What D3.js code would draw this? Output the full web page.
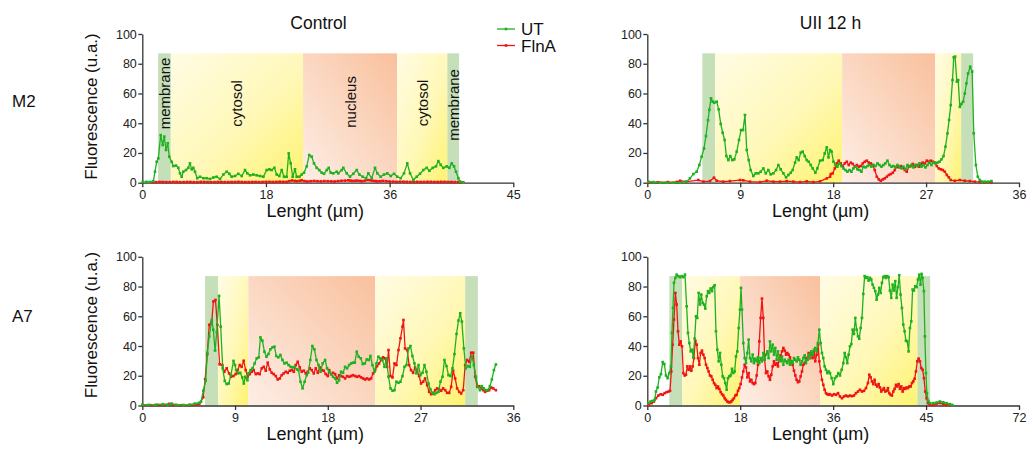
<!DOCTYPE html>
<html><head><meta charset="utf-8">
<script src="https://cdn.jsdelivr.net/npm/d3@7"></script>
<style>
body{margin:0;background:#fff;}
svg{display:block;font-family:"Liberation Sans",Arial,Helvetica,sans-serif;}
</style></head><body>
<svg id="chart" width="1033" height="449"></svg>
<script>
// ---------------- DATA ----------------
const colTitles = ["Control", "UII 12 h"];
const rowLabels = ["M2", "A7"];
const seriesNames = ["UT", "FlnA"];
const regionNames = ["membrane", "cytosol", "nucleus", "cytosol", "membrane"];
const yTicks = [0, 20, 40, 60, 80, 100];

// x ticks (positions in µm) and their printed labels
const m2CtrlXTicks = [0, 18, 36, 54];        const m2CtrlXLabels = ["0", "18", "36", "45"];
const m2UiiXTicks  = [0, 9, 18, 27, 36];     const m2UiiXLabels  = ["0", "9", "18", "27", "36"];
const a7CtrlXTicks = [0, 9, 18, 27, 36];     const a7CtrlXLabels = ["0", "9", "18", "27", "36"];
const a7UiiXTicks  = [0, 18, 36, 54, 72];    const a7UiiXLabels  = ["0", "18", "36", "45", "72"];

// compartment boundaries (µm): membrane | cytosol | nucleus | cytosol | membrane, and band height
const m2CtrlBands = [2.3, 4.15, 23.4, 37.1, 44.4, 46.1];
const m2UiiBands  = [5.33, 6.56, 18.87, 27.88, 30.4, 31.56];
const a7CtrlBands = [6.09, 7.35, 10.29, 22.6, 31.33, 32.56];
const a7UiiBands  = [4.26, 6.72, 17.96, 33.47, 52.33, 54.79];
const bandTop = 87;

// M2 - Control
const m2CtrlUT = [[0.06,0.5],[0.6,0.6],[1.1,0.5],[1.6,1],[1.85,7.4],[2.1,14.1],[2.33,16.4],[2.68,32],[2.97,25.3],[3.2,31],[3.45,22],[3.7,26.5],[3.93,17.5],[4.28,14],[4.5,11.2],[4.9,11.5],[5.24,10],[5.49,6.3],[5.73,4],[5.97,7.4],[6.36,8.5],[6.7,10],[6.94,13],[7.19,9],[7.43,10],[7.67,7.4],[8.0,3],[8.4,4],[8.88,3],[9.37,3],[9.85,2.5],[10.34,3.5],[10.83,4],[11.31,2.5],[11.8,5.5],[12.28,7.4],[12.67,6],[13.01,4],[13.5,4.5],[13.97,6],[14.47,4.5],[14.95,8.5],[15.28,6.3],[15.68,5],[16.16,5.5],[16.65,5],[17.13,4.5],[17.62,4],[18.1,8.5],[18.49,9],[18.83,8.5],[19.22,10],[19.56,5.5],[19.94,4.5],[20.29,8.5],[20.63,4],[21.02,4],[21.31,19.7],[21.6,13],[21.89,4],[22.23,9],[22.47,4],[22.86,4],[23.2,5.5],[23.54,6.7],[23.93,11],[24.3,18.6],[24.66,17.5],[24.99,13],[25.39,10],[25.76,8.5],[26.11,6.7],[26.45,6],[26.84,8.5],[27.13,10],[27.42,6.7],[27.8,6.3],[28.3,7.4],[28.53,6.3],[29.02,8.5],[29.26,10],[29.75,6.3],[30.23,4],[30.71,6],[31.21,8.5],[31.59,5.5],[32.08,4],[32.56,3],[32.9,6.3],[33.39,3],[33.87,10],[34.21,6.3],[34.7,4],[35.18,5.5],[35.66,6.3],[36.16,4.5],[36.64,6],[37.12,4],[37.61,3],[38.09,6.3],[38.57,13],[38.97,6.3],[39.45,1.8],[39.94,4],[40.42,6],[40.9,8.5],[41.4,10],[41.78,8],[42.27,10],[42.75,11],[43.09,14.5],[43.44,12],[43.81,10],[44.31,11],[44.69,10],[45.04,13],[45.37,11],[45.66,7.4],[46.0,3],[46.24,0.8],[46.72,0.1]];
const m2CtrlFlnA = [[1.5,0.2],[2,0.4],[2.5,0.5],[3,0.5],[3.5,0.4],[4,0.4],[4.5,0.5],[5,0.5],[5.5,0.4],[6,0.4],[6.5,0.5],[7,0.5],[7.5,0.4],[8,0.4],[8.5,0.6],[9,0.6],[9.5,0.5],[10,0.4],[10.5,0.4],[11,0.5],[11.5,0.5],[12,0.4],[12.5,0.4],[13,0.5],[13.5,0.5],[14,0.6],[14.5,0.5],[15,0.4],[15.5,0.4],[16,0.5],[16.5,0.5],[17,0.4],[17.5,0.5],[18,0.6],[18.5,0.6],[19,0.5],[19.5,0.6],[20,0.7],[20.5,0.6],[21,0.6],[21.4,1],[21.8,1.5],[22.2,1.2],[22.5,1],[22.9,1.3],[23.2,1.6],[23.6,1.1],[24,0.8],[24.5,1],[25,1.2],[25.5,1],[26,0.9],[26.5,1.1],[27,1],[27.5,0.9],[28,0.8],[28.5,1.1],[29,1.3],[29.5,1.4],[30,1.6],[30.3,1.4],[30.6,1.2],[31,1.3],[31.3,1.4],[31.7,1.2],[32,1],[32.4,1.4],[32.8,1.8],[33.2,1.6],[33.5,1.4],[33.9,1.1],[34.2,0.9],[34.6,1],[35,1.2],[35.5,1],[36,0.8],[36.5,0.7],[37,0.6],[37.5,0.7],[38,0.7],[38.5,0.6],[39,0.5],[39.5,0.6],[40,0.6],[40.5,0.5],[41,0.5],[41.5,0.6],[42,0.6],[42.5,0.5],[43,0.5],[43.5,0.6],[44,0.6],[44.5,0.5],[45,0.5],[45.5,0.4],[46,0.4],[46.4,0.3],[46.7,0.2]];

// M2 - UII 12 h
const m2UiiUT = [[0.1,0.7],[0.58,0.4],[1.23,0],[1.87,0],[2.52,0],[3.17,0],[3.81,0.7],[4.13,2.9],[4.46,5.8],[4.78,7.4],[5.04,11.9],[5.26,17.5],[5.49,23],[5.68,31.4],[5.88,42],[6.01,49],[6.17,56.7],[6.33,54.5],[6.49,53.8],[6.72,54.5],[6.91,49.3],[7.11,39.5],[7.3,33.6],[7.49,28.7],[7.66,17.9],[7.85,15.2],[8.04,17.9],[8.24,15.2],[8.43,15.7],[8.66,20.9],[8.88,28.7],[9.08,35.4],[9.27,35.4],[9.46,45.5],[9.63,22],[9.82,15.2],[10.01,8.5],[10.27,4.5],[10.5,6.3],[10.76,6.3],[10.98,7.4],[11.24,9.6],[11.47,6.3],[11.72,8.5],[11.95,5.6],[12.21,6.3],[12.47,8.5],[12.69,11.9],[12.92,9],[13.18,6.3],[13.44,3.6],[13.66,5.2],[13.89,6.7],[14.08,8.5],[14.31,13.5],[14.47,17],[14.66,15.2],[14.86,20.2],[15.05,20.9],[15.25,17.9],[15.44,15.2],[15.63,14.1],[15.83,11.9],[16.02,9.6],[16.28,6.7],[16.47,9.6],[16.73,14.8],[16.99,15.2],[17.18,19.7],[17.38,23.8],[17.55,17],[17.7,22],[17.85,20.9],[18.03,14.1],[18.22,11.9],[18.41,10.8],[18.61,13],[18.8,11.2],[19.0,9.6],[19.19,8.5],[19.38,7.4],[19.58,8.5],[19.77,7.4],[19.96,9.6],[20.16,10.8],[20.35,9],[20.55,8.5],[20.74,7.4],[20.93,10.8],[21.13,10.3],[21.32,11.2],[21.51,11.9],[21.71,10.8],[21.9,11.9],[22.1,11.2],[22.29,13],[22.48,11.9],[22.68,10.8],[22.87,11.9],[23.06,13],[23.26,14.8],[23.45,11.9],[23.65,10.8],[23.84,11.2],[24.03,10.3],[24.23,11.9],[24.42,10.8],[24.62,9.6],[24.81,10.8],[25.0,9],[25.2,11.9],[25.39,10.8],[25.58,11.9],[25.78,10.3],[25.97,11.9],[26.17,11.2],[26.36,13],[26.55,10.8],[26.75,11.9],[26.94,10.3],[27.13,11.9],[27.33,13.5],[27.52,11.9],[27.72,13.5],[27.91,13],[28.1,13.5],[28.3,14.1],[28.49,15.7],[28.69,17.9],[28.88,24.2],[29.07,33.2],[29.23,42.2],[29.39,52.2],[29.56,69],[29.68,84.3],[29.81,84.8],[29.98,68],[30.11,69],[30.27,51],[30.43,53],[30.59,54.5],[30.75,60],[30.91,66.8],[31.07,73.5],[31.27,78],[31.46,74.7],[31.62,33.2],[31.82,11.9],[32.01,4],[32.2,1.8],[32.43,0.7],[32.68,0.7],[33.0,0.7],[33.33,1.1]];
const m2UiiFlnA = [[0.1,0.2],[1,0.3],[2,0.4],[2.84,0.5],[3.17,1.3],[3.81,0.7],[4.94,1.8],[5.43,0.7],[6.07,1.1],[6.46,3.4],[6.72,1.3],[7.36,0.7],[8.0,1.1],[8.98,1.8],[9.3,1.6],[9.95,0.7],[10.92,0.4],[11.56,1.3],[12.21,0.7],[12.85,0.7],[13.5,1.1],[14.15,0.7],[14.79,0.4],[15.44,0.9],[16.08,0.4],[16.73,0.9],[17.38,2.9],[17.7,4],[17.77,5.8],[17.96,6.3],[18.16,9.6],[18.35,13],[18.54,14.8],[18.74,13],[18.93,11.2],[19.13,13],[19.32,14.1],[19.51,11.9],[19.71,13.5],[19.9,12.6],[20.1,10.8],[20.29,11.9],[20.48,10.8],[20.68,11.2],[20.87,13],[21.06,14.1],[21.26,14.8],[21.45,13.5],[21.65,13],[21.84,11.9],[22.03,8.5],[22.23,4],[22.42,2.2],[22.61,1.3],[22.81,2.2],[23.0,2.9],[23.19,4],[23.39,5.2],[23.58,5.8],[23.78,6.7],[23.97,8.5],[24.16,10.8],[24.36,10.3],[24.55,11.2],[24.75,10.3],[24.94,8.5],[25.13,7.4],[25.33,10.8],[25.52,11.2],[25.71,12.6],[25.91,10.8],[26.1,11.9],[26.3,10.8],[26.49,12.6],[26.68,13.5],[26.88,13],[27.07,14.8],[27.26,14.1],[27.46,14.8],[27.65,14.1],[27.84,13.5],[28.04,11.2],[28.23,9.6],[28.43,9],[28.62,8.5],[28.81,7.4],[29.01,5.2],[29.2,3.6],[29.39,1.8],[29.78,1.3],[30.27,1.8],[30.75,1.3],[31.24,1.1],[31.72,0.7],[32.2,0.4],[32.69,0.2],[33.33,0.2]];

// A7 - Control
const a7CtrlUT = [[0,0.5],[0.6,0.4],[1.3,0.5],[2.0,0.9],[2.4,0.5],[2.85,1.3],[3.3,0.5],[4.0,0.3],[4.6,0.5],[5.1,1.3],[5.5,1.8],[5.7,2.5],[5.92,10],[6.15,16.6],[6.31,35.4],[6.5,46.5],[6.74,57.5],[6.89,50.9],[7.06,37],[7.22,49.3],[7.45,73.7],[7.61,53],[7.8,25],[8.0,16.6],[8.19,14.4],[8.39,14.8],[8.6,20.4],[8.85,30],[9.0,27.2],[9.1,23.8],[9.3,21.6],[9.5,22],[9.7,18.9],[9.85,14.8],[10.0,19.3],[10.2,17],[10.3,21.6],[10.5,23.8],[10.7,25],[10.9,28.3],[11.1,31.7],[11.3,32.4],[11.46,45.8],[11.65,43.6],[11.85,36.2],[12.05,32.8],[12.24,34.6],[12.43,37.8],[12.63,39.1],[12.82,39.6],[13.0,33.3],[13.2,32.4],[13.4,34],[13.6,30.6],[13.8,28.3],[14.0,28.8],[14.2,27.2],[14.4,26],[14.6,25.6],[14.8,26],[15.0,24.3],[15.15,23.8],[15.35,16],[15.55,11.5],[15.75,16],[15.95,20.4],[16.1,22],[16.3,30.6],[16.5,40],[16.7,37.8],[16.9,30.6],[17.1,27.2],[17.3,22.7],[17.5,28.3],[17.74,30.6],[17.93,25],[18.13,22.7],[18.32,21.1],[18.51,19.3],[18.71,18.2],[18.9,15.3],[19.1,17],[19.29,22.7],[19.48,22],[19.68,26],[19.87,25],[20.07,27.2],[20.26,28.3],[20.45,28.8],[20.62,28.8],[20.81,36.2],[21.0,32.8],[21.2,31.7],[21.39,27.9],[21.59,28.3],[21.78,31],[21.98,30.6],[22.14,33.3],[22.33,27.2],[22.53,22.7],[22.72,28.3],[22.91,32.8],[23.11,31.7],[23.3,30.6],[23.5,26],[23.69,31.7],[23.89,19.3],[24.08,11.5],[24.28,9.9],[24.47,10.3],[24.66,16],[24.86,15.3],[25.05,16],[25.25,19.8],[25.44,26],[25.63,27.2],[25.83,38.4],[26.02,40],[26.21,33.3],[26.41,28.3],[26.6,21.6],[26.8,27.2],[26.99,20.4],[27.19,22],[27.38,27.2],[27.57,22.7],[27.77,14.8],[27.96,10.8],[28.16,8.5],[28.35,7.6],[28.55,8.5],[28.74,9.2],[28.93,16],[29.13,19.3],[29.32,30.6],[29.52,26.5],[29.71,20.4],[29.91,19.8],[30.1,25],[30.29,34.6],[30.49,48.1],[30.68,57.1],[30.85,62],[31.01,56.4],[31.2,38.4],[31.39,25],[31.59,26.5],[31.78,26],[31.98,33.3],[32.17,27.2],[32.37,19.3],[32.56,12.6],[32.76,10.3],[32.95,13],[33.14,11.5],[33.34,10.3],[33.53,10.3],[33.73,13],[33.92,17.5],[34.12,23.8],[34.31,27.6]];
const a7CtrlFlnA = [[0,0.3],[0.8,0.2],[1.5,0.4],[2.2,0.3],[2.6,1.1],[3.0,0.3],[3.8,0.2],[4.6,0.3],[5.2,0.6],[5.53,1.1],[5.92,5.5],[6.1,17.7],[6.3,34.4],[6.5,54.2],[6.74,56.4],[6.9,70],[7.1,71],[7.28,54.2],[7.5,27.7],[7.77,27.2],[7.96,22.7],[8.19,25],[8.42,21.6],[8.61,19.3],[8.84,19.8],[9.06,21.1],[9.26,23.8],[9.45,27.2],[9.64,26],[9.84,30.1],[10.03,23.8],[10.23,19.3],[10.42,21.1],[10.62,22.7],[10.81,23.8],[11.01,21.1],[11.2,21.6],[11.39,21.1],[11.59,25],[11.78,26],[11.98,23.4],[12.17,28.8],[12.37,24.3],[12.56,22],[12.75,21.1],[12.95,19.8],[13.14,17.5],[13.34,18.2],[13.53,20.4],[13.72,21.6],[13.92,22.7],[14.11,22],[14.31,23.4],[14.5,23.8],[14.7,22.7],[14.89,27.2],[15.08,29.4],[15.28,25.6],[15.47,22.7],[15.67,23.4],[15.86,21.6],[16.05,22.7],[16.25,25],[16.44,23.8],[16.64,21.6],[16.83,25],[17.03,22],[17.22,25.6],[17.41,23.8],[17.61,23.4],[17.8,21.1],[18.0,19.8],[18.13,23.8],[18.32,21.1],[18.51,22],[18.71,21.1],[18.9,18.2],[19.1,20.4],[19.29,19.8],[19.48,19.3],[19.68,18.2],[19.87,19.8],[20.07,19.3],[20.26,19.8],[20.45,20.4],[20.65,19.8],[20.84,19.3],[21.04,19.8],[21.23,18.9],[21.43,18.2],[21.62,17.5],[21.81,18.2],[22.01,17.5],[22.2,18.2],[22.4,21.6],[22.59,23.8],[22.78,26.5],[22.98,28.3],[23.17,30.6],[23.37,32.4],[23.56,31.7],[23.76,26],[23.89,37.3],[24.08,19.8],[24.28,18.9],[24.47,28.3],[24.66,27.2],[24.86,37.3],[25.05,45.2],[25.25,53],[25.34,57.5],[25.5,38.4],[25.7,37.3],[25.89,27.2],[26.08,23.8],[26.28,22],[26.47,25.6],[26.67,23.4],[26.86,19.8],[27.05,14.8],[27.25,16],[27.44,18.2],[27.64,13.7],[27.83,9.2],[28.03,7.6],[28.22,8.1],[28.42,10.3],[28.61,11.5],[28.8,10.8],[29.0,9.9],[29.19,11.5],[29.39,10.3],[29.58,8.5],[29.78,8.5],[29.97,12.6],[30.16,23.4],[30.36,18.2],[30.55,11.5],[30.75,9.2],[30.94,8.1],[31.14,10.3],[31.33,27.2],[31.52,30.6],[31.72,29.4],[31.91,35.5],[32.11,35.5],[32.3,19.3],[32.5,12.6],[32.69,13],[32.88,11.5],[33.08,10.3],[33.27,9.2],[33.47,9.9],[33.66,10.3],[33.86,12.1],[34.05,11.5],[34.31,10.3]];

// A7 - UII 12 h
const a7UiiUT = [[0.2,1.6],[0.65,2.7],[1.05,3.1],[1.43,3.8],[1.68,9.4],[2.0,12.1],[2.33,18.9],[2.65,21.1],[2.98,29.2],[3.3,27.9],[3.62,20.2],[3.94,18.4],[4.27,21.8],[4.59,26.3],[4.78,48.8],[4.98,65.6],[5.17,82.5],[5.43,85.8],[5.69,88],[6.01,87],[6.33,86.3],[6.65,87],[6.98,86.3],[7.3,88],[7.62,66.7],[7.88,48.8],[8.14,42],[8.4,36.4],[8.66,37.5],[8.91,32.4],[9.17,45],[9.43,60],[9.68,58.9],[9.94,75.7],[10.2,67.9],[10.46,74.6],[10.72,69],[10.98,67.9],[11.24,65.2],[11.5,73.5],[11.76,76.9],[12.01,75.7],[12.27,78.7],[12.53,76.9],[12.79,79.6],[13.05,80.9],[13.3,49.9],[13.56,37.5],[13.82,29.7],[14.08,35.3],[14.34,27.4],[14.6,19.6],[14.85,18.4],[15.11,15.1],[15.37,10.6],[15.63,18.4],[15.89,19.6],[16.15,20.2],[16.41,24.7],[16.66,21.8],[16.92,22.9],[17.18,33],[17.44,36.4],[17.7,52.1],[17.95,64.5],[18.15,79.1],[18.34,64.5],[18.6,42],[18.86,31.9],[19.12,28.5],[19.38,35.3],[19.63,44.3],[19.89,31.9],[20.15,29.7],[20.41,34.2],[20.66,28.5],[20.92,31.5],[21.18,29.7],[21.44,32.4],[21.7,28.5],[21.95,31.9],[22.21,29.7],[22.47,35.3],[22.73,30.8],[22.98,34.2],[23.24,36.4],[23.5,31.9],[23.76,43.1],[24.02,36.4],[24.28,40.9],[24.54,34.2],[24.8,38.7],[25.06,30.8],[25.31,36.4],[25.57,31.9],[25.83,29.7],[26.09,33],[26.35,27.4],[26.61,30.8],[26.87,29.7],[27.12,28.5],[27.38,30.8],[27.64,27.4],[27.9,29.7],[28.15,28.5],[28.41,31.9],[28.67,30.8],[28.93,29.7],[29.18,32.4],[29.44,30.8],[29.7,27.4],[29.96,29.7],[30.22,31.9],[30.48,33.7],[30.73,28.5],[30.99,30.8],[31.25,34.2],[31.51,31.9],[31.77,36.4],[32.03,34.2],[32.29,37.5],[32.54,38.7],[32.8,36.4],[33.06,42],[33.32,51],[33.58,42],[33.83,35.3],[34.09,31.9],[34.35,26.3],[34.61,24],[34.87,21.8],[35.13,22.9],[35.39,21.8],[35.71,18.4],[36.03,14.4],[36.35,18.4],[36.68,19.6],[37.0,21.8],[37.32,20.2],[37.65,24],[37.97,28.5],[38.23,35.3],[38.49,32.4],[38.74,28.5],[39.0,34.2],[39.26,39.8],[39.52,41.3],[39.77,51],[40.03,48.1],[40.29,58.9],[40.55,51],[40.81,46.5],[41.06,44.9],[41.32,52.1],[41.58,58.9],[41.84,75],[42.1,87],[42.35,85.8],[42.61,86.3],[42.87,84],[43.13,85.8],[43.39,84.7],[43.64,81.3],[43.9,79.1],[44.16,76.9],[44.42,71.2],[44.68,74.6],[44.93,79.1],[45.19,75.7],[45.45,82.5],[45.71,86.3],[45.97,87],[46.22,85.8],[46.48,87],[46.74,86.3],[47.0,77.3],[47.26,72.4],[47.51,81.3],[47.77,77.3],[48.03,83.6],[48.29,72.4],[48.55,79.6],[48.8,87.6],[49.06,74.6],[49.32,65.6],[49.58,54.4],[49.84,49.9],[50.1,43.6],[50.35,43.1],[50.61,36.4],[50.87,52.1],[51.13,56.6],[51.39,78],[51.64,77.3],[51.9,80.2],[52.16,79.6],[52.42,84.7],[52.68,88],[52.93,81.3],[53.13,88.5],[53.32,85.8],[53.58,76.9],[53.77,46.5],[53.97,21.8],[54.16,8.3],[54.42,3.1],[54.74,1.6],[55.39,1.6],[56.03,2],[56.68,2.7],[57.32,2.2],[57.97,1.6],[58.6,0.9],[59.1,0.4]];
const a7UiiFlnA = [[0.2,0.4],[0.85,1.6],[1.27,2.7],[1.68,4.9],[2.14,6.7],[2.59,7.6],[2.98,7.2],[3.36,8.3],[3.75,9],[4.14,9.4],[4.4,9.9],[4.65,22.9],[4.91,40.9],[5.17,57.8],[5.43,75.7],[5.69,67.9],[5.95,49.9],[6.2,40.9],[6.46,43.1],[6.72,39.8],[6.98,21.8],[7.24,20.2],[7.49,20.7],[7.75,26.3],[8.01,24],[8.27,26.3],[8.53,23.4],[8.79,26.3],[9.04,31.9],[9.3,43.6],[9.56,40.9],[9.82,31.9],[10.08,27.4],[10.33,35.3],[10.59,36.9],[10.85,34.2],[11.11,31.9],[11.37,27.4],[11.63,25.2],[11.88,22.9],[12.14,20.2],[12.4,19.6],[12.66,17.3],[12.92,15.1],[13.18,13.9],[13.43,11.7],[13.69,12.8],[13.95,11.2],[14.21,9],[14.47,7.6],[14.73,6.7],[14.98,4.9],[15.24,3.8],[15.5,2.7],[15.76,2.2],[16.02,2.2],[16.27,2.7],[16.53,3.8],[16.79,4.9],[17.05,6.7],[17.31,7.2],[17.57,9.9],[17.82,11.7],[18.08,14.4],[18.34,18.9],[18.6,22.9],[18.86,27.4],[19.12,25.6],[19.38,18.9],[19.63,21.8],[19.89,16.2],[20.15,17.3],[20.41,15.1],[20.66,14.4],[20.92,15.1],[21.18,20.2],[21.44,27.4],[21.7,43.1],[21.95,58.9],[22.21,71.9],[22.47,58.9],[22.73,30.8],[22.98,21.8],[23.24,22.9],[23.5,19.6],[23.76,17.3],[24.02,20.7],[24.28,26.3],[24.54,29.7],[24.8,27.4],[25.06,28.5],[25.31,26.3],[25.57,31.9],[25.83,33.7],[26.09,36.4],[26.35,38.7],[26.61,36.9],[26.87,34.2],[27.12,35.3],[27.38,34.2],[27.64,32.4],[27.9,29.7],[28.15,27.4],[28.41,23.4],[28.67,20.2],[28.93,17.3],[29.18,15.7],[29.44,16.2],[29.7,19.6],[29.96,22.9],[30.22,27.4],[30.48,28.5],[30.73,31.9],[30.99,30.8],[31.25,35.3],[31.51,31.9],[31.77,35.3],[32.03,31.9],[32.29,36.4],[32.54,29.7],[32.8,34.2],[33.06,40.9],[33.32,29.7],[33.58,22.9],[33.83,17.3],[34.09,13.9],[34.35,10.6],[34.61,8.3],[34.87,7.6],[35.13,7.2],[35.39,7.6],[35.78,6.7],[36.16,7.6],[36.55,7.2],[36.94,8.3],[37.32,6.1],[37.71,4.9],[38.1,6.1],[38.49,6.7],[38.87,6.1],[39.26,6.7],[39.65,6.3],[40.03,6.7],[40.42,8.3],[40.81,9.4],[41.19,10.6],[41.58,9.4],[41.97,9.9],[42.36,11.7],[42.74,15.1],[43.0,20.7],[43.26,18.9],[43.52,16.2],[43.77,14.4],[44.03,17.3],[44.29,13.9],[44.55,12.8],[44.81,14.4],[45.06,12.1],[45.32,9.4],[45.58,10.6],[45.84,11.7],[46.1,9.4],[46.36,9.9],[46.62,11.7],[46.87,8.3],[47.13,7.2],[47.39,6.7],[47.65,9.4],[47.91,11.2],[48.17,13.9],[48.42,12.8],[48.68,14.4],[48.94,11.2],[49.2,12.8],[49.46,9.4],[49.72,11.7],[49.97,11.2],[50.23,12.1],[50.49,11.7],[50.75,12.8],[51.01,12.8],[51.27,15.1],[51.52,16.2],[51.78,18],[52.04,22.9],[52.3,29.7],[52.56,31.5],[52.81,29.7],[53.07,25.2],[53.33,24],[53.59,18.4],[53.84,9.4],[54.1,4.9],[54.36,1.6],[54.74,0.4],[55.39,0.4],[56.03,1.1],[56.68,1.6],[57.32,0.9],[57.97,0.4],[58.6,0.4]];

// ---------------- LAYOUT / STYLE ----------------
const COL_UT = "#1fb11f", COL_FLN = "#f01414";
const FONT = '"Liberation Sans", Arial, sans-serif';
const panels = [
  {ut: m2CtrlUT, fln: m2CtrlFlnA, xMax: 54, ticks: m2CtrlXTicks, labels: m2CtrlXLabels, bands: m2CtrlBands, x0: 142.3, x1: 513.3, yb: 182.7, yt: 34, yTitle: true, showRegionText: true, yTitleCy: 106.5},
  {ut: m2UiiUT, fln: m2UiiFlnA, xMax: 36, ticks: m2UiiXTicks, labels: m2UiiXLabels, bands: m2UiiBands, x0: 647.3, x1: 1019, yb: 182.7, yt: 34, yTitle: false},
  {ut: a7CtrlUT, fln: a7CtrlFlnA, xMax: 36, ticks: a7CtrlXTicks, labels: a7CtrlXLabels, bands: a7CtrlBands, x0: 142.3, x1: 513.3, yb: 405.5, yt: 256.8, yTitle: true, yTitleCy: 325},
  {ut: a7UiiUT, fln: a7UiiFlnA, xMax: 72, ticks: a7UiiXTicks, labels: a7UiiXLabels, bands: a7UiiBands, x0: 647.3, x1: 1019, yb: 405.5, yt: 256.8, yTitle: false}
];
const regionLabelValue = [60, 53.3, 54.3, 53.6, 52.3];

const svg = d3.select("#chart");
const defs = svg.append("defs");
const gy = defs.append("linearGradient").attr("id", "gYel").attr("x1", 0).attr("y1", 0).attr("x2", 1).attr("y2", 1);
gy.append("stop").attr("offset", "0%").attr("stop-color", "#fffce4");
gy.append("stop").attr("offset", "55%").attr("stop-color", "#fff8b8");
gy.append("stop").attr("offset", "100%").attr("stop-color", "#fff36e");
const gn = defs.append("linearGradient").attr("id", "gNuc").attr("x1", 0).attr("y1", 1).attr("x2", 1).attr("y2", 0);
gn.append("stop").attr("offset", "0%").attr("stop-color", "#fdeee6");
gn.append("stop").attr("offset", "100%").attr("stop-color", "#f9c09c");
const bandFills = ["#c5dfb9", "url(#gYel)", "url(#gNuc)", "url(#gYel)", "#c5dfb9"];

panels.forEach((p, i) => {
  const x = d3.scaleLinear().domain([0, p.xMax]).range([p.x0, p.x1]);
  const y = d3.scaleLinear().domain([0, 100]).range([p.yb, p.yt]);
  const g = svg.append("g");

  // compartments
  const segs = d3.range(5).map(k => ({a: p.bands[k], b: p.bands[k + 1], fill: bandFills[k], name: regionNames[k], k}));
  g.selectAll("rect.band").data(segs).join("rect")
    .attr("x", d => x(d.a)).attr("width", d => x(d.b) - x(d.a))
    .attr("y", y(bandTop)).attr("height", y(0) - y(bandTop))
    .attr("fill", d => d.fill);

  if (p.showRegionText) {
    g.selectAll("text.reg").data(segs).join("text")
      .attr("transform", d => `translate(${(x(d.a) + x(d.b)) / 2},${y(regionLabelValue[d.k])}) rotate(-90)`)
      .attr("text-anchor", "middle").attr("dominant-baseline", "central")
      .style("font-family", FONT).style("font-size", "15px").attr("fill", "#111")
      .text(d => d.name);
  }

  // axes
  const ax = g.append("g").attr("transform", `translate(0,${p.yb})`)
    .call(d3.axisBottom(x).tickValues(p.ticks).tickFormat((d, j) => p.labels[j]).tickSize(4.5).tickPadding(3).tickSizeOuter(0));
  const ay = g.append("g").attr("transform", `translate(${p.x0},0)`)
    .call(d3.axisLeft(y).tickValues(yTicks).tickSize(4).tickPadding(1.5).tickSizeOuter(0));
  [ax, ay].forEach(a => {
    a.select(".domain").attr("stroke", "#333").attr("stroke-width", 1.3);
    a.selectAll(".tick line").attr("stroke", "#333").attr("stroke-width", 1.3);
    a.selectAll(".tick text").style("font-family", FONT).style("font-size", "12.5px").attr("fill", "#222");
  });

  // series
  const line = d3.line().x(d => x(d[0])).y(d => y(d[1]));
  [[p.fln, COL_FLN], [p.ut, COL_UT]].forEach(([data, col]) => {
    g.append("path").datum(data).attr("d", line).attr("fill", "none").attr("stroke", col).attr("stroke-width", 1.3).attr("stroke-linejoin", "round");
    g.selectAll(null).data(data).join("rect")
      .attr("x", d => x(d[0]) - 1.3).attr("y", d => y(d[1]) - 1.3)
      .attr("width", 2.6).attr("height", 2.6).attr("fill", col);
  });

  // axis titles
  g.append("text").attr("x", (p.x0 + p.x1) / 2 - 12.5).attr("y", p.yb + 34)
    .attr("text-anchor", "middle").style("font-family", FONT).style("font-size", "18px").attr("fill", "#111")
    .text("Lenght (µm)");
  if (p.yTitle) {
    g.append("text").attr("transform", `translate(96.5,${p.yTitleCy}) rotate(-90)`)
      .attr("text-anchor", "middle").style("font-family", FONT).style("font-size", "17px").attr("fill", "#111")
      .text("Fluorescence (u.a.)");
  }
});

// column titles
[[318.5, colTitles[0]], [830.5, colTitles[1]]].forEach(([cx, t]) => {
  svg.append("text").attr("x", cx).attr("y", 29.3).attr("text-anchor", "middle")
    .style("font-family", FONT).style("font-size", "17.5px").attr("fill", "#111").text(t);
});
// row labels
[[106.7, rowLabels[0]], [321.7, rowLabels[1]]].forEach(([by, t]) => {
  svg.append("text").attr("x", 12).attr("y", by)
    .style("font-family", FONT).style("font-size", "17px").attr("fill", "#111").text(t);
});
// legend
[[29, 34.5, COL_UT, seriesNames[0]], [45.5, 52, COL_FLN, seriesNames[1]]].forEach(([ly, ty, col, t]) => {
  svg.append("line").attr("x1", 497).attr("x2", 515).attr("y1", ly).attr("y2", ly).attr("stroke", col).attr("stroke-width", 1.3);
  svg.append("rect").attr("x", 504.7).attr("y", ly - 1.3).attr("width", 2.6).attr("height", 2.6).attr("fill", col);
  svg.append("text").attr("x", 521).attr("y", ty).style("font-family", FONT).style("font-size", "17px").attr("fill", "#111").text(t);
});
</script>
</body></html>
